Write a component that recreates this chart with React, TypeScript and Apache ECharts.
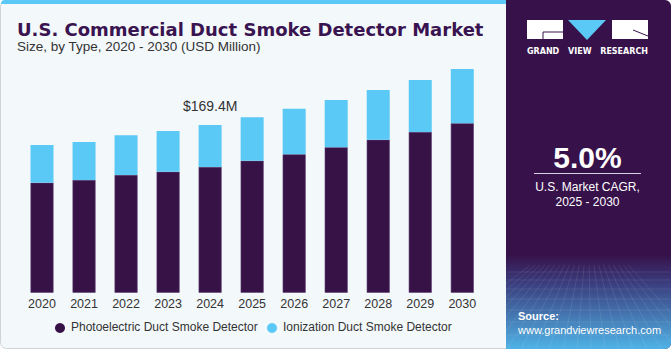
import React, { useEffect, useRef } from "react";
import * as echarts from "echarts";

const years = ["2020", "2021", "2022", "2023", "2024", "2025", "2026", "2027", "2028", "2029", "2030"];
const photoelectric = [111.1, 113.8, 118.9, 122.2, 127.0, 133.3, 139.8, 146.9, 154.5, 162.3, 171.1];
const ionization = [38.1, 38.4, 40.1, 41.1, 42.4, 43.9, 46.1, 47.8, 50.3, 52.6, 54.9];
const seriesNames = ["Photoelectric Duct Smoke Detector", "Ionization Duct Smoke Detector"];
const highlightIndex = 4;
const highlightLabel = "$169.4M";

const DARK = "#371247";
const LIGHT = "#5bc9f5";
const FONT = "'Liberation Sans', Arial, sans-serif";
const WIDE = "'DejaVu Sans', sans-serif";

function gridTexture() {
  const els: any[] = [];
  const hy = [272, 280, 289, 299, 310, 322, 335];
  hy.forEach((y) =>
    els.push({
      type: "line",
      silent: true,
      z: -6,
      shape: { x1: 507, y1: y, x2: 670, y2: y },
      style: { stroke: "rgba(255,255,255,0.13)", lineWidth: 0.7 },
    })
  );
  for (let i = -6; i <= 14; i++) {
    const xb = 507 + i * 14;
    const xt = 588 + (xb - 588) * 0.35;
    els.push({
      type: "line",
      silent: true,
      z: -6,
      shape: { x1: xt, y1: 265, x2: xb, y2: 349 },
      style: { stroke: "rgba(255,255,255,0.13)", lineWidth: 0.7 },
    });
  }
  return {
    type: "group",
    silent: true,
    clipPath: { type: "rect", shape: { x: 506, y: 262, width: 164, height: 86 } },
    children: els,
  };
}

export default function App() {
  const ref = useRef<HTMLDivElement>(null);
  useEffect(() => {
    document.body.style.margin = "0";
    const chart = echarts.init(ref.current!, null, { renderer: "svg" });
    chart.setOption({
      animation: false,
      backgroundColor: "#ffffff",
      textStyle: { fontFamily: FONT },
      grid: { left: 21, right: 671 - 483.3, top: 45.2, bottom: 350 - 292.7, containLabel: false },
      xAxis: {
        type: "category",
        data: years,
        axisLine: { show: false },
        axisTick: { show: false },
        axisLabel: { color: "#333", fontSize: 12.5, fontFamily: FONT, margin: 5 },
      },
      yAxis: { type: "value", min: 0, max: 250, show: false, splitLine: { show: false } },
      legend: { show: false },
      series: [
        {
          name: seriesNames[0],
          type: "bar",
          stack: "t",
          data: photoelectric,
          barWidth: 23,
          itemStyle: { color: DARK, borderColor: "#5a3a6e", borderWidth: 0.6 },
        },
        {
          name: seriesNames[1],
          type: "bar",
          stack: "t",
          data: ionization.map((v, i) =>
            i === highlightIndex
              ? {
                  value: v,
                  label: {
                    show: true,
                    position: "top",
                    distance: 12,
                    formatter: highlightLabel,
                    color: "#333",
                    fontSize: 14,
                    fontFamily: FONT,
                  },
                }
              : v
          ),
          barWidth: 23,
          itemStyle: { color: LIGHT },
        },
      ],
      graphic: [
        {
          type: "rect",
          z: -10,
          shape: { x: 0.5, y: 0.5, width: 670, height: 348, r: 6 },
          style: { fill: "#f3f8fb", stroke: "#cfd4d8", lineWidth: 1 },
          silent: true,
        },
        {
          type: "rect",
          z: -9,
          shape: { x: 1, y: 0, width: 508, height: 4, r: [6, 0, 0, 0] },
          style: { fill: "#5bc9f5" },
          silent: true,
        },
        {
          type: "rect",
          z: -8,
          shape: { x: 506, y: 0, width: 165, height: 349, r: [0, 6, 6, 0] },
          style: { fill: "#37124a" },
          silent: true,
        },
        {
          type: "rect",
          z: -7,
          shape: { x: 506, y: 255, width: 165, height: 94, r: [0, 0, 6, 0] },
          style: {
            fill: new echarts.graphic.LinearGradient(0, 0, 0, 1, [
              { offset: 0, color: "rgba(55,18,74,1)" },
              { offset: 0.3, color: "#3a3d7e" },
              { offset: 1, color: "#4fb3e6" },
            ]),
          },
          silent: true,
        },
        gridTexture(),
        {
          type: "text",
          x: 17,
          y: 29,
          style: { text: "U.S. Commercial Duct Smoke Detector Market", fill: "#3a1450", font: `bold 18px ${WIDE}`, verticalAlign: "middle" },
        },
        {
          type: "text",
          left: 17,
          top: 39,
          style: { text: "Size, by Type, 2020 - 2030 (USD Million)", fill: "#333", font: `13.5px ${FONT}` },
        },
        { type: "circle", shape: { cx: 60, cy: 328, r: 5 }, style: { fill: DARK } },
        {
          type: "text",
          left: 71,
          top: 321,
          style: { text: seriesNames[0], fill: "#333", font: `12px ${FONT}` },
        },
        { type: "circle", shape: { cx: 272, cy: 328, r: 5 }, style: { fill: LIGHT } },
        {
          type: "text",
          left: 283,
          top: 321,
          style: { text: seriesNames[1], fill: "#333", font: `12px ${FONT}` },
        },
        { type: "rect", shape: { x: 527, y: 20, width: 36, height: 19 }, style: { fill: "#ffffff" } },
        { type: "line", shape: { x1: 543, y1: 32, x2: 563, y2: 32 }, style: { stroke: "#37124a", lineWidth: 1 } },
        { type: "line", shape: { x1: 543, y1: 32, x2: 543, y2: 39 }, style: { stroke: "#37124a", lineWidth: 1 } },
        {
          type: "polygon",
          shape: { points: [[568, 20], [606, 20], [587, 40]] },
          style: { fill: "#5bc9f5" },
        },
        { type: "rect", shape: { x: 612, y: 20, width: 36, height: 19 }, style: { fill: "#ffffff" } },
        { type: "line", shape: { x1: 633, y1: 30, x2: 648, y2: 36 }, style: { stroke: "#37124a", lineWidth: 1 } },
        {
          type: "text",
          x: 527,
          y: 51,
          style: { text: "GRAND", fill: "#ffffff", font: `bold 8px ${WIDE}`, verticalAlign: "middle" },
        },
        {
          type: "text",
          x: 568,
          y: 51,
          style: { text: "VIEW", fill: "#ffffff", font: `bold 8px ${WIDE}`, verticalAlign: "middle" },
        },
        {
          type: "text",
          x: 648,
          y: 51,
          style: { text: "RESEARCH", fill: "#ffffff", font: `bold 8px ${WIDE}`, align: "right", verticalAlign: "middle" },
        },
        {
          type: "text",
          x: 587.5,
          y: 157,
          style: { text: "5.0%", fill: "#ffffff", font: `bold 30px ${FONT}`, align: "center", verticalAlign: "middle" },
        },
        { type: "line", shape: { x1: 534, y1: 173.5, x2: 641, y2: 173.5 }, style: { stroke: "#d8d0e0", lineWidth: 1 } },
        {
          type: "text",
          x: 587.5,
          y: 187,
          style: { text: "U.S. Market CAGR,", fill: "#ffffff", font: `12px ${FONT}`, align: "center", verticalAlign: "middle" },
        },
        {
          type: "text",
          x: 587.5,
          y: 202,
          style: { text: "2025 - 2030", fill: "#ffffff", font: `12px ${FONT}`, align: "center", verticalAlign: "middle" },
        },
        {
          type: "text",
          left: 518,
          top: 310,
          style: { text: "Source:", fill: "#ffffff", font: `bold 11px ${FONT}` },
        },
        {
          type: "text",
          left: 518,
          top: 324,
          style: { text: "www.grandviewresearch.com", fill: "#ffffff", font: `11px ${FONT}` },
        },
      ],
    });
    return () => chart.dispose();
  }, []);
  return <div ref={ref} style={{ width: 671, height: 350 }} />;
}
